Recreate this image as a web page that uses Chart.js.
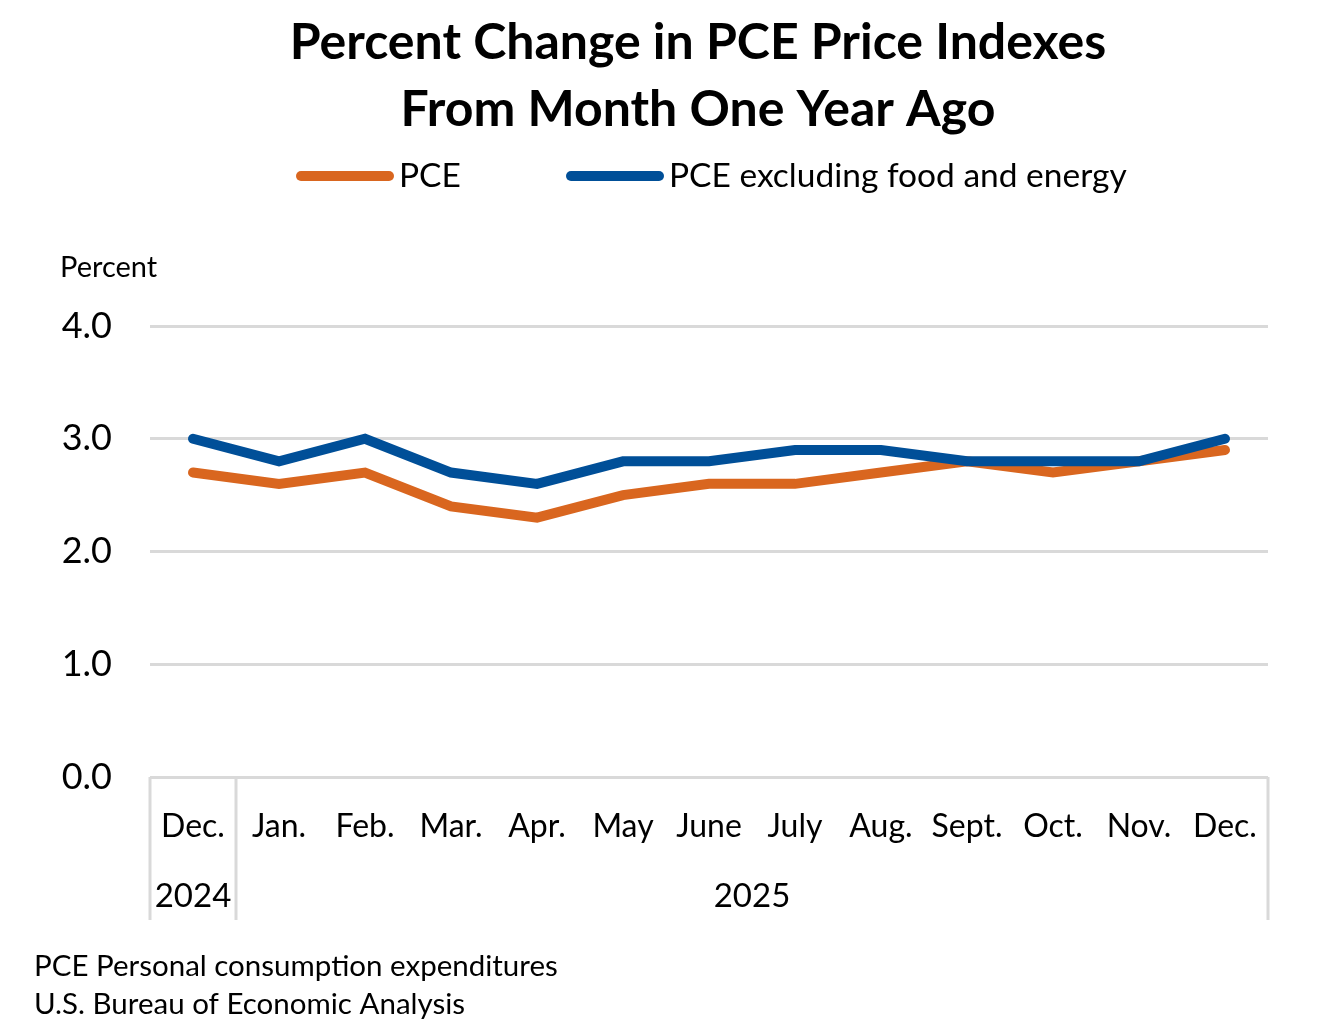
<!DOCTYPE html>
<html>
<head>
<meta charset="utf-8">
<script src="https://cdn.jsdelivr.net/npm/chart.js@4/dist/chart.umd.min.js"></script>
<style>
  html, body { margin: 0; padding: 0; background: #fff; }
  #wrap { width: 1320px; height: 1024px; position: relative; }
</style>
</head>
<body>
<div id="wrap"><canvas id="pceChart" width="1320" height="1024"></canvas></div>
<script>
// data
var months = ['Dec.', 'Jan.', 'Feb.', 'Mar.', 'Apr.', 'May', 'June', 'July', 'Aug.', 'Sept.', 'Oct.', 'Nov.', 'Dec.'];
var pce = [2.7, 2.6, 2.7, 2.4, 2.3, 2.5, 2.6, 2.6, 2.7, 2.8, 2.7, 2.8, 2.9];
var pceCore = [3.0, 2.8, 3.0, 2.7, 2.6, 2.8, 2.8, 2.9, 2.9, 2.8, 2.8, 2.8, 3.0];
var yTicks = [0, 1, 2, 3, 4];
var years = [{ label: '2024', from: 0, to: 0 }, { label: '2025', from: 1, to: 12 }];

var orange = '#D9661F';
var blue = '#004F98';
var gridColor = '#D9D9D9';
var fontName = 'Lato, "Liberation Sans", sans-serif';

var extras = {
    id: 'extras',
    afterDraw: function (chart) {
        var ctx = chart.ctx;
        var x = chart.scales.x;
        var area = chart.chartArea;
        ctx.save();

        // title
        ctx.fillStyle = '#000';
        ctx.textAlign = 'center';
        ctx.textBaseline = 'middle';
        ctx.font = 'bold 50px ' + fontName;
        ctx.fillText('Percent Change in PCE Price Indexes', 698, 43);
        ctx.fillText('From Month One Year Ago', 698, 110);

        // legend
        ctx.lineCap = 'round';
        ctx.lineWidth = 10;
        ctx.strokeStyle = orange;
        ctx.beginPath(); ctx.moveTo(301, 176); ctx.lineTo(389, 176); ctx.stroke();
        ctx.strokeStyle = blue;
        ctx.beginPath(); ctx.moveTo(571, 176); ctx.lineTo(659, 176); ctx.stroke();
        ctx.textAlign = 'left';
        ctx.font = '33.5px ' + fontName;
        ctx.fillText('PCE', 399, 176);
        ctx.fillText('PCE excluding food and energy', 669, 176);

        // axis caption
        ctx.font = '29px ' + fontName;
        ctx.fillText('Percent', 60, 268);

        // x axis frame and year separators
        ctx.strokeStyle = gridColor;
        ctx.lineWidth = 3;
        ctx.lineCap = 'butt';
        var bottom = 920;
        var seps = [area.left, (x.getPixelForValue(0) + x.getPixelForValue(1)) / 2, area.right];
        seps.forEach(function (sx) {
            ctx.beginPath(); ctx.moveTo(sx, area.bottom); ctx.lineTo(sx, bottom); ctx.stroke();
        });

        // year labels
        ctx.fillStyle = '#000';
        ctx.textAlign = 'center';
        ctx.font = '33px ' + fontName;
        years.forEach(function (y) {
            var cx = (x.getPixelForValue(y.from) + x.getPixelForValue(y.to)) / 2;
            ctx.fillText(y.label, cx, 896);
        });

        // footnotes
        ctx.textAlign = 'left';
        ctx.font = '29.5px ' + fontName;
        ctx.fillText('PCE Personal consumption expenditures', 34, 966);
        ctx.fillText('U.S. Bureau of Economic Analysis', 34, 1004);
        ctx.restore();
    }
};

var ctx = document.getElementById('pceChart').getContext('2d');
new Chart(ctx, {
    type: 'line',
    data: {
        labels: months,
        datasets: [{
                label: 'PCE',
                data: pce,
                borderColor: orange,
                backgroundColor: orange,
                borderWidth: 10,
                borderCapStyle: 'round',
                pointRadius: 0,
                tension: 0,
                fill: false,
                order: 1
            },
            {
                label: 'PCE excluding food and energy',
                data: pceCore,
                borderColor: blue,
                backgroundColor: blue,
                borderWidth: 10,
                borderCapStyle: 'round',
                pointRadius: 0,
                tension: 0,
                fill: false,
                order: 0
            }
        ]
    },
    options: {
        responsive: false,
        animation: false,
        layout: { padding: { top: 326, right: 52, left: 0, bottom: 0 } },
        plugins: {
            legend: { display: false },
            title: { display: false },
            tooltip: { enabled: false }
        },
        scales: {
            x: {
                offset: true,
                grid: { display: false },
                border: { display: false },
                ticks: {
                    color: '#000',
                    padding: 22,
                    font: { family: fontName, size: 32 },
                    maxRotation: 0,
                    autoSkip: false
                },
                afterFit: function (scale) { scale.height = 247; }
            },
            y: {
                min: 0,
                max: 4,
                afterBuildTicks: function (scale) {
                    scale.ticks = yTicks.map(function (v) { return { value: v }; });
                },
                grid: { color: gridColor, lineWidth: 3, drawTicks: false },
                border: { display: false },
                ticks: {
                    color: '#000',
                    padding: 38,
                    font: { family: fontName, size: 36 },
                    callback: function (v) { return v.toFixed(1); }
                },
                afterFit: function (scale) { scale.width = 150; }
            }
        }
    },
    plugins: [extras]
});
</script>
</body>
</html>
